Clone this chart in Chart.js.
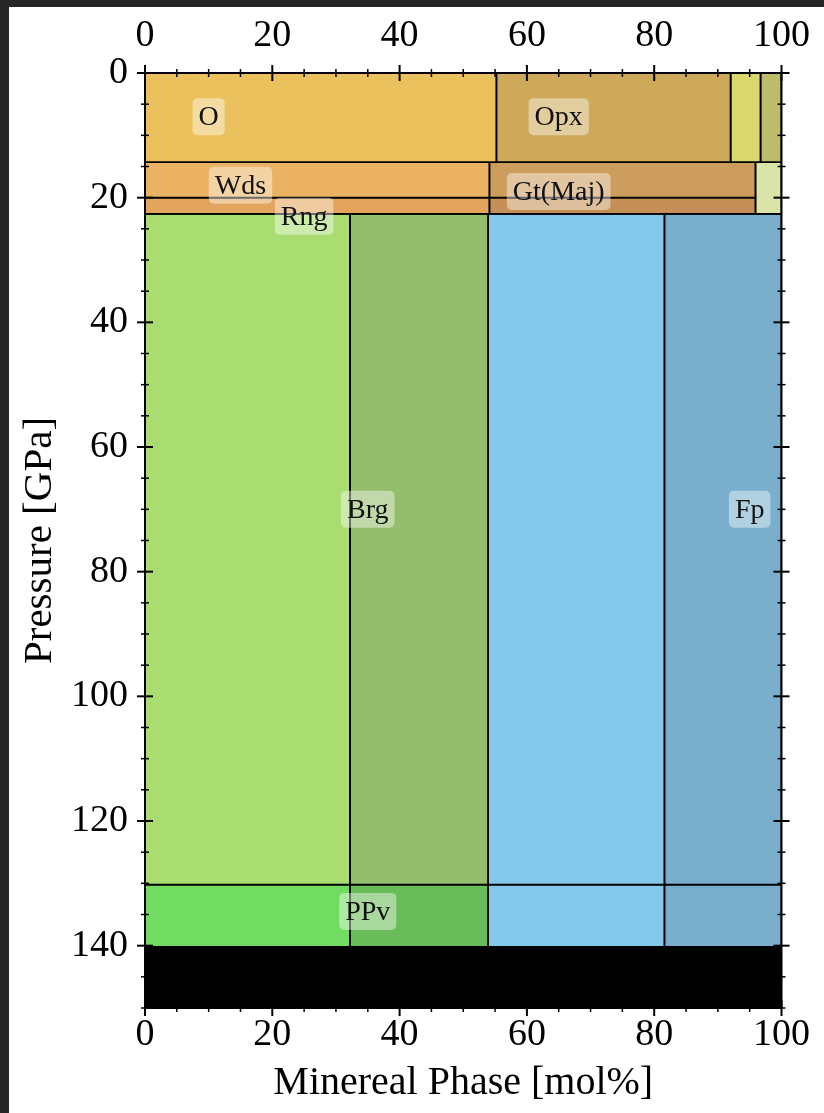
<!DOCTYPE html>
<html>
<head>
<meta charset="utf-8">
<script src="https://cdn.jsdelivr.net/npm/chart.js@4.4.1/dist/chart.umd.min.js"></script>
<style>
  html, body { margin: 0; padding: 0; background: #262626; width: 824px; height: 1113px; overflow: hidden; }
  #frame { position: absolute; left: 9px; top: 7px; width: 815px; height: 1106px; background: #ffffff; }
  canvas { display: block; }
</style>
</head>
<body>
<div id="frame"><canvas id="c" width="815" height="1106"></canvas></div>
<script>
// ---- Data ----
const phaseNames = ['O', 'Opx', 'Cpx', 'Gt', 'Wds', 'Gt(Maj) upper', 'Rng', 'Gt(Maj) lower', 'Ca-Pv (upper mantle)',
                    'Brg (Mg)', 'Brg (Fe/Al)', 'Fp (Mg)', 'Fp (Fe)', 'PPv (Mg)', 'PPv (Fe/Al)', 'Fp lower (Mg)', 'Fp lower (Fe)', 'Core'];
const molStart  = [0,    55.2, 92.0, 96.7, 0,    54.1, 0,    54.1, 95.9, 0,     32.2,  53.9,  81.6,  0,     32.2,  53.9,  81.6,  0];
const molEnd    = [55.2, 92.0, 96.7, 100,  54.1, 95.9, 54.1, 95.9, 100,  32.2,  53.9,  81.6,  100,   32.2,  53.9,  81.6,  100,   100];
const pressTop  = [0,    0,    0,    0,    14.3, 14.3, 20,   20,   14.3, 22.6,  22.6,  22.6,  22.6,  130.2, 130.2, 130.2, 130.2, 140.2];
const pressBot  = [14.3, 14.3, 14.3, 14.3, 20,   20,   22.6, 22.6, 22.6, 130.2, 130.2, 130.2, 130.2, 140.2, 140.2, 140.2, 140.2, 150];

const labelText = ['O', 'Opx', 'Wds', 'Gt(Maj)', 'Rng', 'Brg', 'Fp', 'PPv'];
const labelMol  = [10,  65,    15,    65,        25,    35,    95,   35];
const labelP    = [7,   7,     18,    19,        23,    70,    70,   134.5];

const molTicks = [0, 20, 40, 60, 80, 100];
const pressureTicks = [0, 20, 40, 60, 80, 100, 120, 140];

// ---- Styles ----
const phaseColors = ['#EBC15D', '#CDA959', '#DAD86D', '#BEBC6A', '#EBB263', '#CD9D5E', '#E3A55D', '#C58F57', '#D8E4A8',
                     '#A9DC71', '#94BE6B', '#84C8EC', '#79AFCD', '#72DB61', '#69BC59', '#84C8EC', '#79AFCD', '#000000'];
const FONT = "'Liberation Serif', 'Times New Roman', serif";

const datasets = phaseNames.map((name, i) => ({
  label: name,
  data: [
    {x: molStart[i], y: pressTop[i]},
    {x: molEnd[i],   y: pressTop[i]},
    {x: molEnd[i],   y: pressBot[i]},
    {x: molStart[i], y: pressBot[i]},
    {x: molStart[i], y: pressTop[i]}
  ],
  showLine: true,
  fill: 'shape',
  backgroundColor: phaseColors[i],
  borderColor: '#000000',
  borderWidth: name === 'Core' ? 0 : 1.8,
  pointRadius: 0,
  pointHoverRadius: 0,
  tension: 0
}));

const tickFont = {family: FONT, size: 38};
const xTitleFont = {family: FONT, size: 40};
const yTitleFont = {family: FONT, size: 41};

// plugin: axis frame, in/out ticks, labels with boxes
const decor = {
  id: 'decor',
  afterDatasetsDraw(chart) {
    const {ctx, chartArea: a} = chart;
    const xs = chart.scales.x, ys = chart.scales.y;
    ctx.save();
    // labels
    ctx.font = `28px ${FONT}`;
    ctx.textAlign = 'center';
    ctx.textBaseline = 'middle';
    labelText.forEach((t, i) => {
      const px = xs.getPixelForValue(labelMol[i]);
      const py = ys.getPixelForValue(labelP[i]);
      const w = ctx.measureText(t).width + 12;
      const h = 37;
      ctx.fillStyle = 'rgba(255,255,255,0.42)';
      ctx.beginPath();
      ctx.roundRect(px - w / 2, py - h / 2, w, h, 5);
      ctx.fill();
      ctx.fillStyle = '#111111';
      ctx.fillText(t, px, py + 1);
    });
    // frame
    ctx.strokeStyle = '#000000';
    ctx.lineWidth = 2;
    ctx.strokeRect(a.left, a.top, a.right - a.left, a.bottom - a.top);
    // ticks
    const tick = (x1, y1, x2, y2, lw) => {
      ctx.lineWidth = lw;
      ctx.beginPath(); ctx.moveTo(x1, y1); ctx.lineTo(x2, y2); ctx.stroke();
    };
    for (let v = 0; v <= 100; v += 5) {
      const major = molTicks.includes(v);
      const L = major ? 8 : 4, lw = major ? 2 : 1.5;
      const px = xs.getPixelForValue(v);
      tick(px, a.top - L, px, a.top + L, lw);
      tick(px, a.bottom - L, px, a.bottom + L, lw);
    }
    for (let v = 0; v <= 150; v += 5) {
      const major = pressureTicks.includes(v);
      const L = major ? 8 : 4, lw = major ? 2 : 1.5;
      const py = ys.getPixelForValue(v);
      tick(a.left - L, py, a.left + L, py, lw);
      tick(a.right - L, py, a.right + L, py, lw);
    }
    ctx.restore();
  }
};

new Chart(document.getElementById('c'), {
  type: 'scatter',
  data: {datasets},
  options: {
    responsive: false,
    animation: false,
    events: [],
    layout: {padding: 0},
    plugins: {legend: {display: false}, tooltip: {enabled: false}},
    scales: {
      x: {
        type: 'linear', position: 'bottom', min: 0, max: 100,
        afterFit: s => { s.height = 105; },
        afterBuildTicks: s => { s.ticks = molTicks.map(v => ({value: v})); },
        ticks: {font: tickFont, color: '#000', padding: 4, maxRotation: 0, autoSkip: false, includeBounds: false},
        grid: {display: false, drawTicks: false},
        border: {display: false},
        title: {display: true, text: 'Minereal Phase [mol%]', font: xTitleFont, color: '#000', padding: {top: 0, bottom: 6}}
      },
      x2: {
        type: 'linear', axis: 'x', position: 'top', min: 0, max: 100,
        afterFit: s => { s.height = 66; },
        afterBuildTicks: s => { s.ticks = molTicks.map(v => ({value: v})); },
        ticks: {font: tickFont, color: '#000', padding: 14, maxRotation: 0, autoSkip: false, includeBounds: false},
        grid: {display: false, drawTicks: false},
        border: {display: false}
      },
      y: {
        type: 'linear', position: 'left', reverse: true, min: 0, max: 150,
        afterFit: s => { s.width = 136; },
        afterBuildTicks: s => { s.ticks = pressureTicks.map(v => ({value: v})); },
        ticks: {font: tickFont, color: '#000', padding: 17, autoSkip: false, includeBounds: false},
        grid: {display: false, drawTicks: false},
        border: {display: false},
        title: {display: true, text: 'Pressure [GPa]', font: yTitleFont, color: '#000', padding: {top: 7, bottom: 0}}
      },
      y2: {
        type: 'linear', axis: 'y', position: 'right', reverse: true, min: 0, max: 150,
        afterFit: s => { s.width = 41; },
        ticks: {display: false},
        grid: {display: false, drawTicks: false},
        border: {display: false}
      }
    }
  },
  plugins: [decor]
});
</script>
</body>
</html>
